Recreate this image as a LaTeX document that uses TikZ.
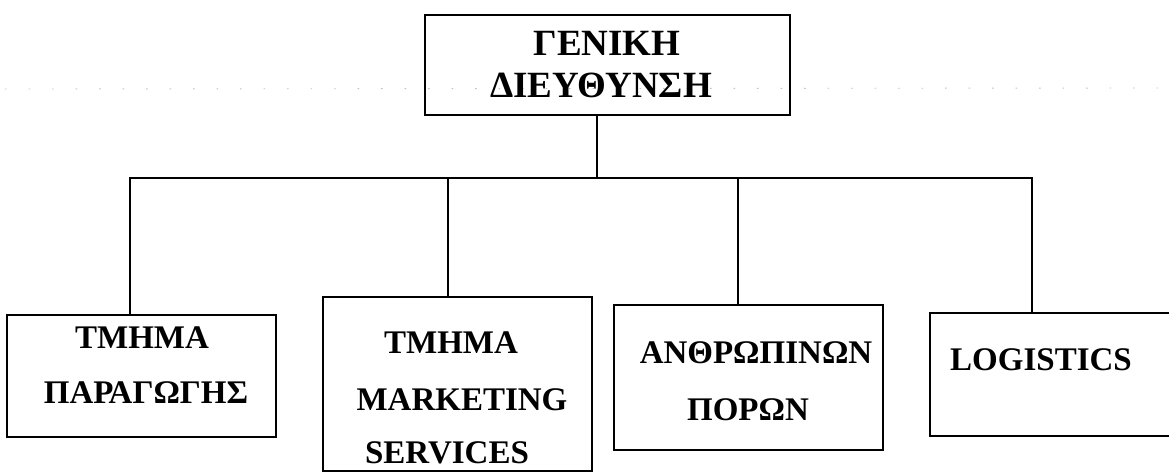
\documentclass[tikz,border=0pt]{standalone}
\usepackage{fontspec}
\setmainfont{Liberation Serif}
\begin{document}
\begin{tikzpicture}[x=1pt,y=-1pt,
  box/.style={draw=black, line width=2.4pt, rectangle, inner sep=0pt},
  conn/.style={draw=black, line width=2.2pt},
  lbl/.style={inner sep=0pt, font=\bfseries\fontsize{33}{33}\selectfont},
  ttl/.style={inner sep=0pt, font=\bfseries\fontsize{37}{37}\selectfont},
  noise/.style={draw=black!25, line width=0.9pt, dash pattern=on 1.5pt off 22pt}]
\useasboundingbox (0,0) rectangle (1169,472);
\fill[white] (0,0) rectangle (1169,472);
% faint scan dotted line
\coordinate (nL) at (5,89);
\coordinate (nR) at (1160,88);
\draw[noise] (nL) -- (nR);
% top box
\node[box, minimum width=365pt, minimum height=100pt] (top) at (607.5,65) {};
\node[ttl] (t1) at (607,43) {ΓΕΝΙΚΗ};
\node[ttl] (t2) at (601,85) {ΔΙΕΥΘΥΝΣΗ};
% lower boxes
\node[box, minimum width=269pt, minimum height=122pt] (b1) at (141.5,376) {};
\node[box, minimum width=269pt, minimum height=174pt] (b2) at (457.5,384) {};
\node[box, minimum width=269pt, minimum height=145pt] (b3) at (748.5,377.5) {};
\node[box, minimum width=260pt, minimum height=123pt] (b4) at (1060,374.5) {};
% labels
\node[lbl] (l1a) at (142,338) {ΤΜΗΜΑ};
\node[lbl] (l1b) at (146,393) {ΠΑΡΑΓΩΓΗΣ};
\node[lbl] (l2a) at (451,343) {ΤΜΗΜΑ};
\node[lbl] (l2b) at (462,400) {MARKETING};
\node[lbl] (l2c) at (447,453) {SERVICES};
\node[lbl] (l3a) at (756,353) {ΑΝΘΡΩΠΙΝΩΝ};
\node[lbl] (l3b) at (748,410) {ΠΟΡΩΝ};
\node[lbl, anchor=west] (l4) at (950,360) {LOGISTICS};
% bus and connectors
\coordinate (j1) at (130,178);
\coordinate (j2) at (448,178);
\coordinate (jc) at (597,178);
\coordinate (j3) at (738,178);
\coordinate (j4) at (1032,178);
\draw[conn] (jc |- top.south) -- (jc);
\draw[conn, line cap=rect] (j1) -- (j4);
\draw[conn] (j1) -- (j1 |- b1.north);
\draw[conn] (j2) -- (j2 |- b2.north);
\draw[conn] (j3) -- (j3 |- b3.north);
\draw[conn] (j4) -- (j4 |- b4.north);
\end{tikzpicture}
\end{document}
